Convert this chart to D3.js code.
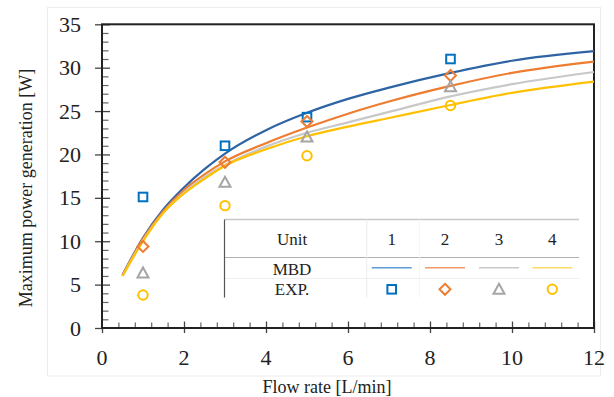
<!DOCTYPE html>
<html>
<head>
<meta charset="utf-8">
<script src="https://cdn.jsdelivr.net/npm/d3@7"></script>
<style>
  body { margin: 0; background: #fff; }
  text { font-family: "Liberation Serif", "Times New Roman", serif; }
</style>
</head>
<body>
<div id="chart"></div>
<script>
// experimental points (markers)
var flowExp = [1, 3, 5, 8.5];
var expUnit1 = [15.1, 21.0, 24.3, 31.0];
var expUnit2 = [9.4, 19.1, 23.8, 29.1];
var expUnit3 = [6.35, 16.8, 22.0, 27.8];
var expUnit4 = [3.8, 14.1, 19.85, 25.65];

// MBD curves
var flowMbd = [0.5, 1, 1.5, 2, 2.5, 3, 4, 5, 6, 7, 8.5, 10, 12];
var mbdUnit1 = [6.1, 10.4, 13.7, 16.2, 18.3, 20.1, 22.8, 24.8, 26.4, 27.7, 29.4, 30.8, 31.9];
var mbdUnit2 = [6.05, 10.3, 13.5, 15.9, 17.7, 19.2, 21.3, 23.1, 24.7, 26.1, 27.9, 29.4, 30.7];
var mbdUnit3 = [6.0, 10.1, 13.3, 15.6, 17.4, 18.8, 20.9, 22.5, 23.7, 24.9, 26.7, 28.1, 29.5];
var mbdUnit4 = [6.0, 10.0, 13.3, 15.5, 17.2, 18.7, 20.6, 22.1, 23.2, 24.2, 25.7, 27.1, 28.4];

var units = ["1", "2", "3", "4"];
var xTicks = [0, 2, 4, 6, 8, 10, 12];
var yTicks = [0, 5, 10, 15, 20, 25, 30, 35];

var lineColors = ["#2e64a3", "#ed7d31", "#c8c8c8", "#ffc000"];
var markColors = ["#0070c0", "#ed7d31", "#a5a5a5", "#ffc000"];
var legLineColors = ["#5b9bd5", "#f09a6a", "#c8c8c8", "#ffd966"];
var shapes = ["square", "diamond", "triangle", "circle"];

var W = 614, H = 397;
var pLeft = 102, pRight = 594, pTop = 24.3, pBottom = 328;
var serif = "Liberation Serif";

var svg = d3.select("#chart").append("svg")
  .attr("width", W).attr("height", H)
  .attr("font-family", serif);

// faint chart frame
svg.append("rect")
  .attr("x", 47.5).attr("y", 7.5).attr("width", 553).attr("height", 368.5)
  .attr("fill", "none").attr("stroke", "#ececec").attr("stroke-width", 1);

var x = d3.scaleLinear().domain([0, 12]).range([pLeft, pRight]);
var y = d3.scaleLinear().domain([0, 35]).range([pBottom, pTop]);

var mbdSeries = [mbdUnit1, mbdUnit2, mbdUnit3, mbdUnit4];
var expSeries = [expUnit1, expUnit2, expUnit3, expUnit4];

// minor ticks
var xMinor = d3.range(0, 12.001, 0.4).filter(function(v) { return Math.abs(v / 2 - Math.round(v / 2)) > 0.01; });
var yMinor = d3.range(0, 35.001, 1).filter(function(v) { return v % 5 != 0; });

svg.append("g")
  .attr("transform", "translate(0," + pBottom + ")")
  .call(d3.axisBottom(x).tickValues(xMinor).tickSize(-5.5).tickFormat(""))
  .call(function(g) { g.select(".domain").remove(); g.selectAll("line").attr("stroke", "#666").attr("stroke-width", 1.2); });

svg.append("g")
  .attr("transform", "translate(" + pLeft + ",0)")
  .call(d3.axisLeft(y).tickValues(yMinor).tickSize(-6.5).tickFormat(""))
  .call(function(g) { g.select(".domain").remove(); g.selectAll("line").attr("stroke", "#666").attr("stroke-width", 1.2); });

// major ticks crossing the axes
svg.append("g")
  .attr("transform", "translate(0," + pBottom + ")")
  .call(d3.axisBottom(x).tickValues(xTicks).tickSize(5).tickFormat(""))
  .call(function(g) { g.select(".domain").remove(); g.selectAll("line").attr("stroke", "#444").attr("stroke-width", 1.3); });
svg.append("g")
  .attr("transform", "translate(0," + pBottom + ")")
  .call(d3.axisBottom(x).tickValues(xTicks.slice(1)).tickSize(-6.5).tickFormat(""))
  .call(function(g) { g.select(".domain").remove(); g.selectAll("line").attr("stroke", "#444").attr("stroke-width", 1.3); });

svg.append("g")
  .attr("transform", "translate(" + pLeft + ",0)")
  .call(d3.axisLeft(y).tickValues(yTicks).tickSize(7).tickFormat(""))
  .call(function(g) { g.select(".domain").remove(); g.selectAll("line").attr("stroke", "#444").attr("stroke-width", 1.3); });
svg.append("g")
  .attr("transform", "translate(" + pLeft + ",0)")
  .call(d3.axisLeft(y).tickValues(yTicks.slice(1)).tickSize(-8).tickFormat(""))
  .call(function(g) { g.select(".domain").remove(); g.selectAll("line").attr("stroke", "#444").attr("stroke-width", 1.3); });

// tick labels
svg.append("g").selectAll("text")
  .data(xTicks).enter().append("text")
  .attr("x", function(d) { return x(d); })
  .attr("y", 365)
  .attr("text-anchor", "middle")
  .attr("font-family", serif)
  .style("font-size", "22px")
  .attr("fill", "#222")
  .text(function(d) { return d; });

svg.append("g").selectAll("text")
  .data(yTicks).enter().append("text")
  .attr("x", 81)
  .attr("y", function(d) { return y(d) + 7.5; })
  .attr("text-anchor", "end")
  .attr("font-family", serif)
  .style("font-size", "22px")
  .attr("fill", "#222")
  .text(function(d) { return d; });

// plot box
svg.append("rect")
  .attr("x", pLeft).attr("y", pTop).attr("width", pRight - pLeft).attr("height", pBottom - pTop)
  .attr("fill", "none").attr("stroke", "#222").attr("stroke-width", 2);

// axis titles
svg.append("text")
  .attr("x", 327).attr("y", 393)
  .attr("text-anchor", "middle")
  .attr("font-family", serif)
  .style("font-size", "18px")
  .attr("fill", "#222")
  .text("Flow rate [L/min]");

svg.append("text")
  .attr("transform", "translate(32,188) rotate(-90)")
  .attr("text-anchor", "middle")
  .attr("font-family", serif)
  .style("font-size", "18px")
  .attr("fill", "#222")
  .text("Maximum power generation [W]");

// MBD curves
var line = d3.line()
  .x(function(d) { return x(d[0]); })
  .y(function(d) { return y(d[1]); })
  .curve(d3.curveMonotoneX);

mbdSeries.forEach(function(s, i) {
  svg.append("path")
    .datum(flowMbd.map(function(f, j) { return [f, s[j]]; }))
    .attr("d", line)
    .attr("fill", "none")
    .attr("stroke", lineColors[i])
    .attr("stroke-width", 2.2);
});

// marker drawing helper
function drawMarker(g, shape, color, cx, cy) {
  if (shape == "square") {
    g.append("rect").attr("x", cx - 4.3).attr("y", cy - 4.3).attr("width", 8.6).attr("height", 8.6)
      .attr("fill", "none").attr("stroke", color).attr("stroke-width", 2);
  } else if (shape == "diamond") {
    g.append("path").attr("d", "M" + cx + "," + (cy - 5.5) + "L" + (cx + 5.5) + "," + cy + "L" + cx + "," + (cy + 5.5) + "L" + (cx - 5.5) + "," + cy + "Z")
      .attr("fill", "none").attr("stroke", color).attr("stroke-width", 2);
  } else if (shape == "triangle") {
    g.append("path").attr("d", "M" + cx + "," + (cy - 5.5) + "L" + (cx + 5.5) + "," + (cy + 4.5) + "L" + (cx - 5.5) + "," + (cy + 4.5) + "Z")
      .attr("fill", "none").attr("stroke", color).attr("stroke-width", 2);
  } else {
    g.append("circle").attr("cx", cx).attr("cy", cy).attr("r", 4.7)
      .attr("fill", "none").attr("stroke", color).attr("stroke-width", 2);
  }
}

var marks = svg.append("g");
expSeries.forEach(function(s, i) {
  s.forEach(function(v, j) {
    drawMarker(marks, shapes[i], markColors[i], x(flowExp[j]), y(v));
  });
});

// legend table
var tbl = svg.append("g");
var tL = 224.5, tR = 579, tTop = 219.5, tMid = 257.5, tRow = 278.5, tBot = 297.5, tDiv = 366.7;
var colX = [391.7, 445, 499, 552.3];

tbl.append("rect").attr("x", tL).attr("y", tTop).attr("width", tR - tL).attr("height", tBot - tTop).attr("fill", "#fff");
tbl.append("line").attr("x1", tL).attr("x2", tR).attr("y1", tTop).attr("y2", tTop).attr("stroke", "#c8c8c8").attr("stroke-width", 1.5);
tbl.append("line").attr("x1", tL).attr("x2", tR).attr("y1", tMid).attr("y2", tMid).attr("stroke", "#b0b0b0").attr("stroke-width", 1);
tbl.append("line").attr("x1", tL).attr("x2", tR).attr("y1", tRow).attr("y2", tRow).attr("stroke", "#f0f0f0").attr("stroke-width", 1);
tbl.append("line").attr("x1", tL).attr("x2", tL).attr("y1", tTop).attr("y2", tBot).attr("stroke", "#555").attr("stroke-width", 1.2);
tbl.append("line").attr("x1", tDiv).attr("x2", tDiv).attr("y1", tTop).attr("y2", tBot).attr("stroke", "#ececec").attr("stroke-width", 1);
tbl.append("line").attr("x1", 419.3).attr("x2", 419.3).attr("y1", tTop).attr("y2", tBot).attr("stroke", "#f4f4f4").attr("stroke-width", 1);

var rowLabels = ["Unit", "MBD", "EXP."];
var rowY = [245, 275, 295];
rowLabels.forEach(function(t, i) {
  tbl.append("text").attr("x", 292).attr("y", rowY[i]).attr("text-anchor", "middle")
    .attr("font-family", serif).style("font-size", "17px").attr("fill", "#222").text(t);
});

units.forEach(function(u, i) {
  tbl.append("text").attr("x", colX[i]).attr("y", 245).attr("text-anchor", "middle")
    .attr("font-family", serif).style("font-size", "17px").attr("fill", "#222").text(u);
  tbl.append("line").attr("x1", colX[i] - 20).attr("x2", colX[i] + 20).attr("y1", 267.7).attr("y2", 267.7)
    .attr("stroke", legLineColors[i]).attr("stroke-width", 1.5);
  drawMarker(tbl, shapes[i], markColors[i], colX[i], 289.3);
});
</script>
</body>
</html>
